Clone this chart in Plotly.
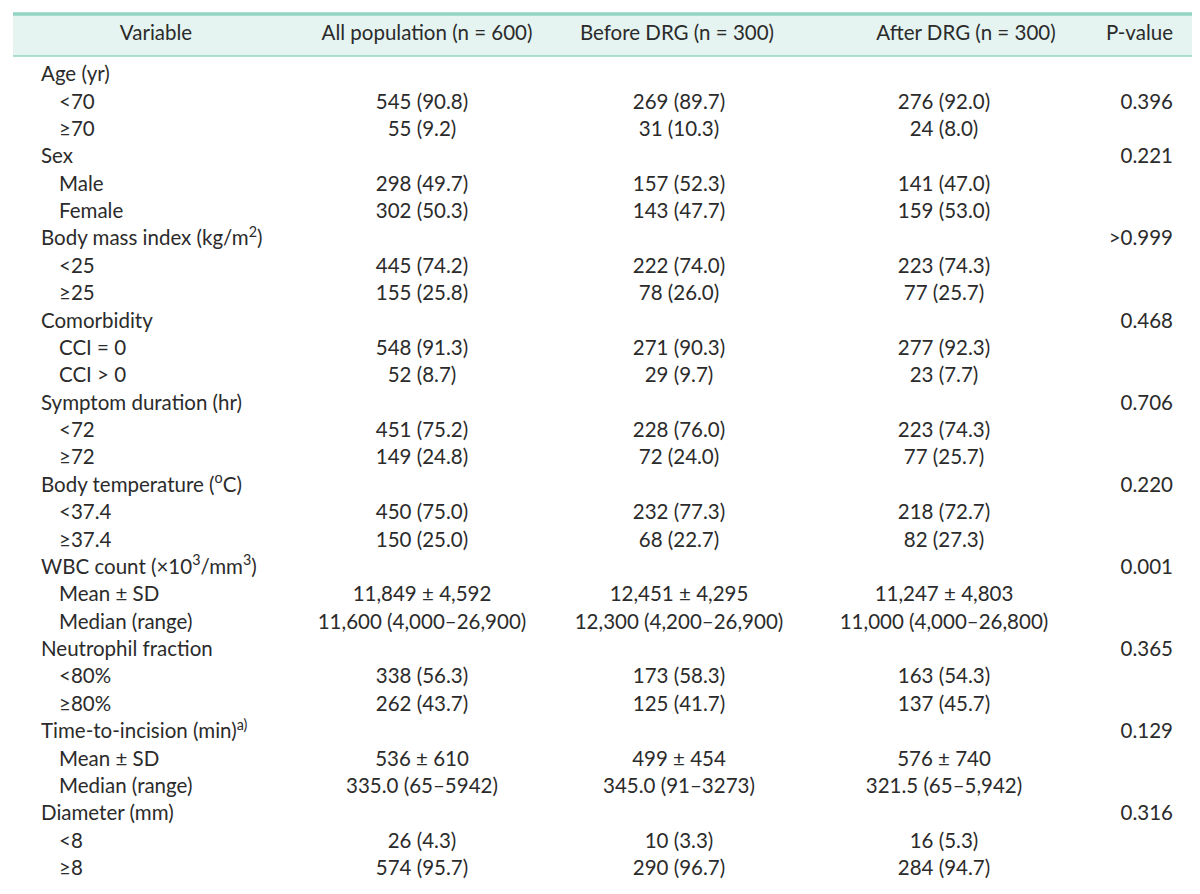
import plotly.graph_objects as go

headers = ["Variable", "All population (n = 600)", "Before DRG (n = 300)", "After DRG (n = 300)", "P-value"]

variables = [
    "Age (yr)", "<70", "≥70",
    "Sex", "Male", "Female",
    "Body mass index (kg/m<sup>2</sup>)", "<25", "≥25",
    "Comorbidity", "CCI = 0", "CCI > 0",
    "Symptom duration (hr)", "<72", "≥72",
    "Body temperature (<sup>o</sup>C)", "<37.4", "≥37.4",
    "WBC count (×10<sup>3</sup>/mm<sup>3</sup>)", "Mean ± SD", "Median (range)",
    "Neutrophil fraction", "<80%", "≥80%",
    "Time-to-incision (min)<sup>a)</sup>", "Mean ± SD", "Median (range)",
    "Diameter (mm)", "<8", "≥8",
]
indent = [0, 1, 1] * 10

all_population = [
    "", "545 (90.8)", "55 (9.2)",
    "", "298 (49.7)", "302 (50.3)",
    "", "445 (74.2)", "155 (25.8)",
    "", "548 (91.3)", "52 (8.7)",
    "", "451 (75.2)", "149 (24.8)",
    "", "450 (75.0)", "150 (25.0)",
    "", "11,849 ± 4,592", "11,600 (4,000–26,900)",
    "", "338 (56.3)", "262 (43.7)",
    "", "536 ± 610", "335.0 (65–5942)",
    "", "26 (4.3)", "574 (95.7)",
]
before_drg = [
    "", "269 (89.7)", "31 (10.3)",
    "", "157 (52.3)", "143 (47.7)",
    "", "222 (74.0)", "78 (26.0)",
    "", "271 (90.3)", "29 (9.7)",
    "", "228 (76.0)", "72 (24.0)",
    "", "232 (77.3)", "68 (22.7)",
    "", "12,451 ± 4,295", "12,300 (4,200–26,900)",
    "", "173 (58.3)", "125 (41.7)",
    "", "499 ± 454", "345.0 (91–3273)",
    "", "10 (3.3)", "290 (96.7)",
]
after_drg = [
    "", "276 (92.0)", "24 (8.0)",
    "", "141 (47.0)", "159 (53.0)",
    "", "223 (74.3)", "77 (25.7)",
    "", "277 (92.3)", "23 (7.7)",
    "", "223 (74.3)", "77 (25.7)",
    "", "218 (72.7)", "82 (27.3)",
    "", "11,247 ± 4,803", "11,000 (4,000–26,800)",
    "", "163 (54.3)", "137 (45.7)",
    "", "576 ± 740", "321.5 (65–5,942)",
    "", "16 (5.3)", "284 (94.7)",
]
p_values = [
    "", "0.396", "",
    "0.221", "", "",
    ">0.999", "", "",
    "0.468", "", "",
    "0.706", "", "",
    "0.220", "", "",
    "0.001", "", "",
    "0.365", "", "",
    "0.129", "", "",
    "0.316", "", "",
]

W, H = 1200, 894
TEAL = "#93d4c4"
BAND = "#e5f4f0"
TXT = "#2b2b2b"
FONT = "Lato"
FS = 20.5

row_y0, row_dy = 68, 27.38
header_y = 27
ys = [row_y0 + i * row_dy for i in range(len(variables))]

fig = go.Figure()

# header band and rules
fig.add_shape(type="rect", x0=5, x1=1196, y0=6, y1=48, xref="x", yref="y",
              fillcolor=BAND, line_width=0, layer="below")
fig.add_shape(type="line", x0=5, x1=1196, y0=6, y1=6, xref="x", yref="y",
              line=dict(color=TEAL, width=3.5))
fig.add_shape(type="line", x0=5, x1=1196, y0=48, y1=48, xref="x", yref="y",
              line=dict(color=TEAL, width=1.5))
fig.add_shape(type="line", x0=5, x1=1196, y0=888, y1=888, xref="x", yref="y",
              line=dict(color=TEAL, width=3.5))


def text_trace(xs, yv, texts, pos):
    pts = [(x, y, t) for x, y, t in zip(xs, yv, texts) if t]
    fig.add_trace(go.Scatter(
        x=[p[0] for p in pts], y=[p[1] for p in pts], text=[p[2] for p in pts],
        mode="text", textposition=pos,
        textfont=dict(family=FONT, size=FS, color=TXT),
        hoverinfo="skip", showlegend=False, cliponaxis=False))


# headers
hx = [148, 419, 669, 958, 1165]
hpos = ["middle center", "middle center", "middle center", "middle center", "middle left"]
for x, t, p in zip(hx, headers, hpos):
    text_trace([x], [header_y], [t], p)

# variable column (left aligned)
lx = [33 if lvl == 0 else 51 for lvl in indent]
text_trace(lx, ys, variables, "middle right")

# data columns (centered)
n = len(ys)
text_trace([414] * n, ys, all_population, "middle center")
text_trace([671] * n, ys, before_drg, "middle center")
text_trace([936] * n, ys, after_drg, "middle center")
# p-values (right aligned)
text_trace([1165] * n, ys, p_values, "middle left")

fig.update_xaxes(range=[0, W], visible=False, fixedrange=True)
fig.update_yaxes(range=[H, 0], visible=False, fixedrange=True)
fig.update_layout(width=W, height=H, margin=dict(l=0, r=0, t=0, b=0),
                  paper_bgcolor="white", plot_bgcolor="white")

fig.write_html("out.html")
